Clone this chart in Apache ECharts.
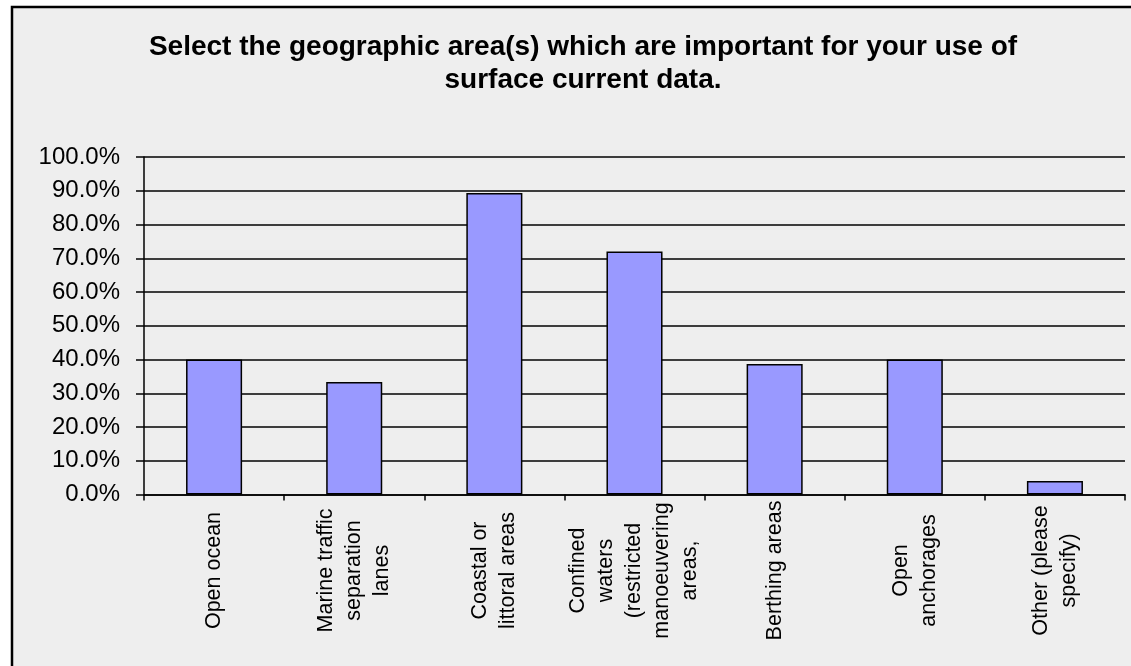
<!DOCTYPE html>
<html>
<head>
<meta charset="utf-8">
<title>Geographic areas important for surface current data</title>
<script src="https://cdn.jsdelivr.net/npm/echarts@6/dist/echarts.min.js"></script>
<style>
  html, body { margin: 0; padding: 0; background: #ffffff; }
  #chart { width: 1131px; height: 666px; }
</style>
</head>
<body>
<div id="chart"></div>
<script>
// Survey answers: share of respondents selecting each geographic area (percent)
const categories = [
  'Open ocean',
  'Marine traffic\nseparation\nlanes',
  'Coastal or\nlittoral areas',
  'Confined\nwaters\n(restricted\nmanoeuvering\nareas,',
  'Berthing areas',
  'Open\nanchorages',
  'Other (please\nspecify)'
];
const shares = [40.0, 33.3, 89.3, 72.0, 38.7, 40.0, 4.0];

const titleText = 'Select the geographic area(s) which are important for your use of\nsurface current data.';
const yMin = 0;
const yMax = 100;
const yStep = 10;

const FONT = '"Liberation Sans", Arial, Helvetica, sans-serif';

const chart = echarts.init(document.getElementById('chart'), null, { renderer: 'canvas' });

chart.setOption({
  animation: false,
  backgroundColor: '#ffffff',
  graphic: [{
    type: 'rect',
    z: -100,
    silent: true,
    shape: { x: 12, y: 7, width: 1300, height: 800 },
    style: { fill: '#eeeeee', stroke: '#000000', lineWidth: 2.5 }
  }],
  title: {
    text: titleText,
    left: 578,
    top: 26,
    textAlign: 'center',
    textStyle: {
      fontFamily: FONT,
      fontSize: 28,
      fontWeight: 'bold',
      color: '#000000',
      lineHeight: 33
    }
  },
  grid: { left: 144, right: 6, top: 157, bottom: 171.5 },
  xAxis: {
    type: 'category',
    data: categories,
    boundaryGap: true,
    axisLine: { show: true, lineStyle: { color: '#000000', width: 1.5 } },
    axisTick: { show: true, length: 6, inside: false, lineStyle: { color: '#000000', width: 1.5 } },
    axisLabel: {
      interval: 0,
      rotate: 90,
      align: 'center',
      verticalAlign: 'middle',
      margin: 76,
      fontFamily: FONT,
      fontSize: 21.5,
      lineHeight: 28,
      color: '#000000'
    },
    splitLine: { show: false }
  },
  yAxis: {
    type: 'value',
    min: yMin,
    max: yMax,
    interval: yStep,
    axisLine: { show: true, lineStyle: { color: '#000000', width: 1.5 } },
    axisTick: { show: true, length: 8, inside: false, lineStyle: { color: '#000000', width: 1.5 } },
    axisLabel: {
      margin: 24,
      fontFamily: FONT,
      fontSize: 24,
      color: '#000000',
      formatter: v => v.toFixed(1) + '%'
    },
    splitLine: { show: true, lineStyle: { color: '#000000', width: 1.5 } }
  },
  series: [{
    type: 'bar',
    data: shares,
    barWidth: '40%',
    itemStyle: { color: '#9999ff', borderColor: '#000000', borderWidth: 1.5 },
    emphasis: { disabled: true }
  }]
});
</script>
</body>
</html>
